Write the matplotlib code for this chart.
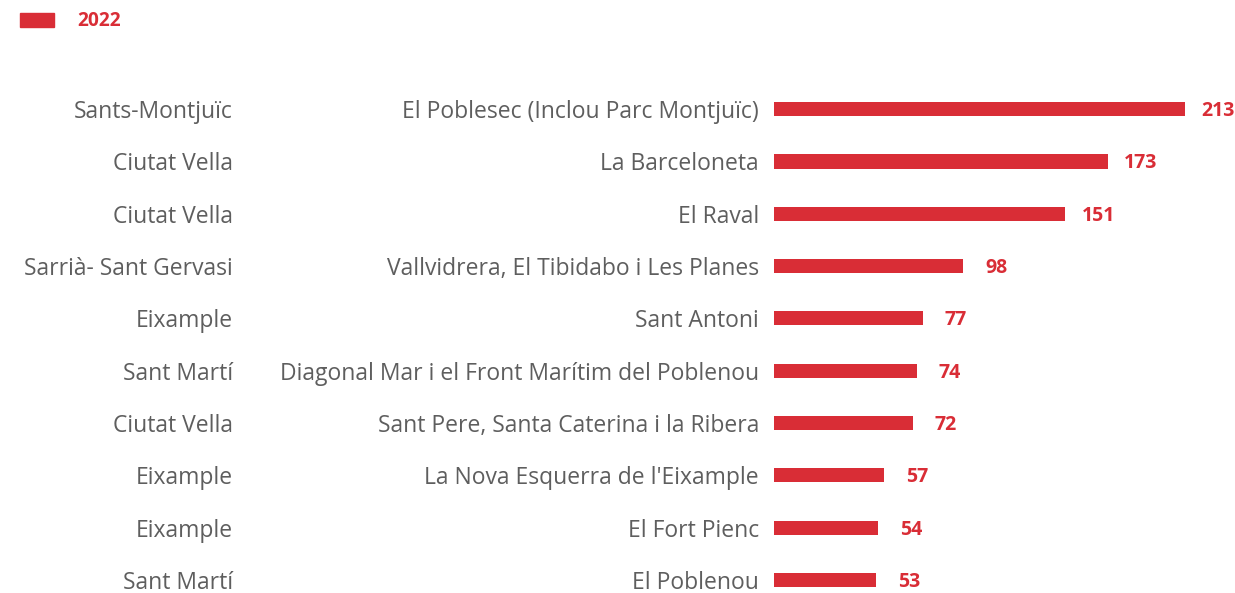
import matplotlib.pyplot as plt

districts = ["Sants-Montjuïc", "Ciutat Vella", "Ciutat Vella", "Sarrià- Sant Gervasi",
             "Eixample", "Sant Martí", "Ciutat Vella", "Eixample", "Eixample", "Sant Martí"]
neighbourhoods = ["El Poblesec (Inclou Parc Montjuïc)", "La Barceloneta", "El Raval",
                  "Vallvidrera, El Tibidabo i Les Planes", "Sant Antoni",
                  "Diagonal Mar i el Front Marítim del Poblenou",
                  "Sant Pere, Santa Caterina i la Ribera",
                  "La Nova Esquerra de l'Eixample", "El Fort Pienc", "El Poblenou"]
values_2022 = [213, 173, 151, 98, 77, 74, 72, 57, 54, 53]

red = "#d92d36"
grey = "#5e5e5e"
W, H = 1235, 593

plt.rcParams["font.family"] = ["Open Sans", "DejaVu Sans"]
fig = plt.figure(figsize=(W / 100, H / 100), dpi=100)
ax = fig.add_axes([774 / W, 0, 411 / W, (H - 83) / H])
rows = list(range(len(values_2022)))
ax.barh(rows, values_2022, height=0.27, color=red)
ax.set_xlim(0, 213)
ax.set_ylim(9.25, -0.5)
ax.axis("off")

for i, v in enumerate(values_2022):
    ax.annotate(str(v), (v, i), xytext=(33, -2), textcoords="offset pixels",
                color=red, fontsize=14, fontweight="bold",
                ha="center", va="center", annotation_clip=False)
    ax.annotate(neighbourhoods[i], (0, i), xytext=(-15, -3), textcoords="offset pixels",
                ha="right", va="center", fontsize=16.5, color=grey, annotation_clip=False)
    ax.annotate(districts[i], (0, i), xytext=(233 - 774, -3), textcoords="offset pixels",
                ha="right", va="center", fontsize=16.5, color=grey, annotation_clip=False)

# legend
fig.patches.append(plt.Rectangle((20 / W, 1 - 27 / H), 34 / W, 14 / H,
                                 transform=fig.transFigure, color=red))
fig.text(77 / W, 1 - 21 / H, "2022", color=red, fontsize=13.8, fontweight="bold",
         ha="left", va="center")

fig.savefig("out.png", dpi=100)
